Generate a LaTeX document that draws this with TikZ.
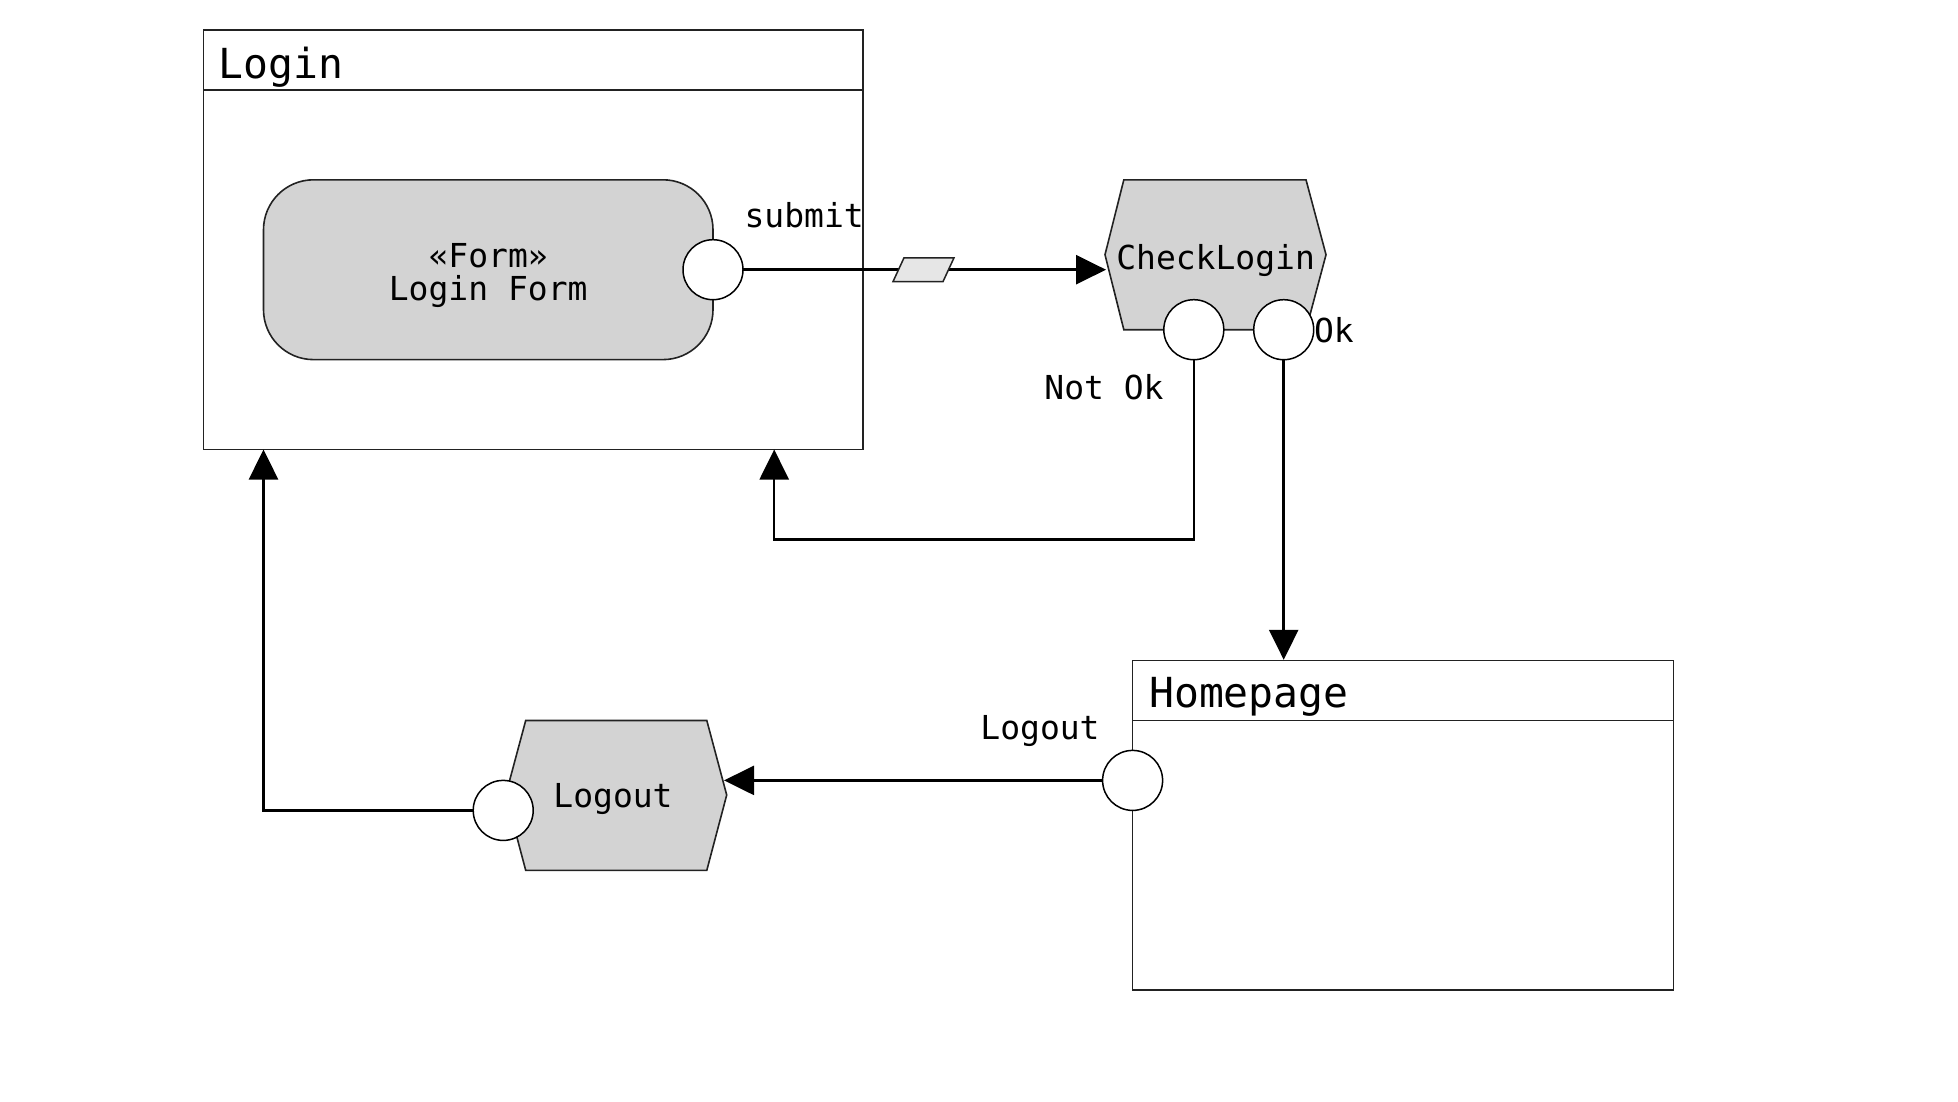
\documentclass[tikz,border=0pt]{standalone}
\usepackage{fontspec}
\setmainfont{DejaVu Sans Mono}
\setmonofont{DejaVu Sans Mono}
\usetikzlibrary{arrows.meta}
\definecolor{boxfill}{HTML}{D3D3D3}
\definecolor{tokfill}{HTML}{E6E6E6}
\definecolor{edgec}{HTML}{222222}
\begin{document}
\begin{tikzpicture}[x=0.5pt,y=-0.5pt,
  frame/.style={rectangle, draw=edgec, fill=white, line width=0.8pt, inner sep=0pt},
  divider/.style={draw=edgec, line width=0.8pt},
  actshape/.style={draw=edgec, fill=boxfill, line width=0.8pt},
  port/.style={circle, draw=black, fill=white, line width=0.75pt, minimum size=30pt, inner sep=0pt},
  flow/.style={draw=black, line width=1.25pt, -{Triangle[length=15pt,width=14.5pt]}},
  title/.style={inner sep=0pt, font=\fontsize{20.7pt}{24pt}\selectfont},
  lbl/.style={inner sep=0pt, font=\fontsize{16.5pt}{20pt}\selectfont},
  token/.style={draw=edgec, fill=tokfill, line width=0.75pt}]
\useasboundingbox (0,0) rectangle (1958,1102);

% Login frame
\node[frame, minimum width=329.7pt, minimum height=209.75pt] (login) at (533.2,239.75) {};
\draw[divider] (203.5,89.9) -- (862.9,89.9);
\node[title, anchor=base west] (logintitle) at (218.5,78.5) {Login};

% Login form
\node[actshape, rectangle, rounded corners=25pt, minimum width=224.75pt, minimum height=89.9pt, inner sep=0pt] (form) at (488.25,269.7) {};
\node[lbl, anchor=base] (formst) at (488.2,267) {«Form»};
\node[lbl, anchor=base] (formname) at (488.2,300) {Login Form};

% CheckLogin
\draw[actshape] (1123.8,179.8) -- (1306,179.8) -- (1326,254.7) -- (1306,329.7) -- (1123.8,329.7) -- (1105,254.7) -- cycle;
\node[lbl, anchor=base] (check) at (1215.6,269.5) {CheckLogin};
\coordinate (checkin) at (1106,269.7);

% Homepage frame
\node[frame, minimum width=270.35pt, minimum height=164.8pt] (home) at (1402.95,825.4) {};
\draw[divider] (1132.6,720.5) -- (1673.3,720.5);
\node[title, anchor=base west] (hometitle) at (1148.8,707.5) {Homepage};

% Logout action
\draw[actshape] (525.7,720.5) -- (706.8,720.5) -- (726.7,795) -- (706.8,870.3) -- (525.7,870.3) -- (505.7,795) -- cycle;
\node[lbl, anchor=base] (logout) at (613,807) {Logout};
\coordinate (logoutin) at (724,780.4);

% entry points on Login
\coordinate (loginin1) at (263.5,449.5);
\coordinate (loginin2) at (774.2,449.5);

% connectors
\coordinate (psubmitc) at (713,269.7);
\draw[flow] (psubmitc) -- (checkin);
\coordinate (pnotokc) at (1193.8,329.7);
\coordinate (pokc) at (1283.7,329.7);
\draw[flow] (pnotokc) -- ++(0,209.7) -| (loginin2);
\draw[flow] (pokc) -- (pokc |- home.north);
\coordinate (plogHc) at (1132.6,780.4);
\draw[flow] (plogHc) -- (logoutin);
\coordinate (plogLc) at (503.2,810.4);
\draw[flow] (plogLc) -| (loginin1);

% token
\draw[token] (904,257.8) -- (954,257.8) -- (943,281.6) -- (893,281.6) -- cycle;
\coordinate (tok) at (922.8,269.7);

% ports
\node[port] (psubmit) at (psubmitc) {};
\node[port] (pnotok) at (pnotokc) {};
\node[port] (pok) at (pokc) {};
\node[port] (plogH) at (plogHc) {};
\node[port] (plogL) at (plogLc) {};

% port labels
\node[lbl, anchor=base west] (submitlbl) at (744.2,227) {submit};
\node[lbl, anchor=base west] (oklbl) at (1313.6,342.5) {Ok};
\node[lbl, anchor=base east] (notoklbl) at (1164,399.5) {Not Ok};
\node[lbl, anchor=base east] (logoutlbl) at (1100,739) {Logout};
\end{tikzpicture}
\end{document}
